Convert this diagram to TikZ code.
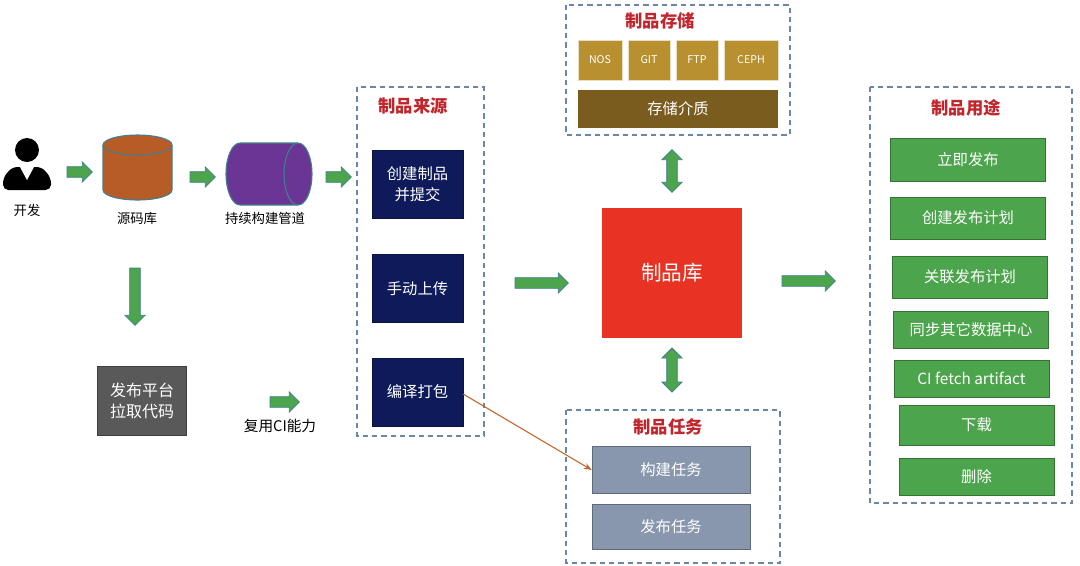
\documentclass[tikz,border=0pt]{standalone}
\usepackage{fontspec}
\setmainfont{Noto Sans CJK SC}
\usetikzlibrary{shapes.geometric,shapes.arrows,arrows.meta}
\definecolor{ga}{HTML}{4CA54C}
\definecolor{gab}{HTML}{3F7F8F}
\definecolor{ttl}{HTML}{C0262B}
\definecolor{navy}{HTML}{0E1A5A}
\definecolor{dash}{HTML}{6A86A8}
\definecolor{pgray}{HTML}{595959}
\definecolor{tgray}{HTML}{8896AE}
\definecolor{orng}{HTML}{B85C27}
\definecolor{purp}{HTML}{6A3594}
\definecolor{gold}{HTML}{B8902F}
\definecolor{dgold}{HTML}{7A5C1F}
\definecolor{libred}{HTML}{E83224}
\definecolor{lnk}{HTML}{C0652B}
\tikzset{
 px/.style={x=0.75pt,y=-0.75pt},
 box/.style={draw=#1!70!black,fill=#1,text=white,font=\fontsize{11.5}{15}\selectfont,inner sep=0pt,align=center},
 grp/.style={draw=dash,line width=1pt,dash pattern=on 4pt off 3pt},
 ttlf/.style={text=ttl,font=\bfseries\fontsize{13}{15}\selectfont},
 sa/.style={single arrow,fill=ga,draw=gab,line width=0.6pt,single arrow head extend=3.5pt,inner sep=3.7pt,minimum height=#1},
 da/.style={double arrow,fill=ga,draw=gab,line width=0.6pt,double arrow head extend=3.5pt,inner sep=3.7pt,minimum height=#1,shape border rotate=90},
 lbl/.style={font=\fontsize{10}{12}\selectfont},
}
\begin{document}
\begin{tikzpicture}[px]
\useasboundingbox (0,0) rectangle (1080,565);
% person
\fill (27,150) circle (12);
\fill[rounded corners=4pt] (3,190) -- (3,178) -- (12,167) -- (42,167) -- (51,178) -- (51,190) -- cycle;
\fill[white] (20,167) -- (27,180) -- (34,167) -- cycle;
\node[lbl] (dev) at (27,210) {开发};
\node[sa=19pt] (a1) at (77,172) {};
% repo cylinder
\coordinate (repo) at (137.5,168);
\draw[draw=gab,fill=orng,line width=0.8pt] (103,145) -- (103,190) arc[start angle=180,end angle=0,x radius=34.5,y radius=10] -- (172,145) arc[start angle=0,end angle=-180,x radius=34.5,y radius=10] -- cycle;
\draw[draw=gab,line width=0.8pt] (103,145) arc[start angle=180,end angle=0,x radius=34.5,y radius=10];
\node[lbl] (repol) at (137,218) {源码库};
\node[sa=19pt] (a2) at (200,177) {};
% pipe
\coordinate (pipe) at (268,174);
\draw[draw=gab,fill=purp,line width=0.8pt] (298,143) -- (240,143) arc[start angle=-90,end angle=-270,x radius=14,y radius=31] -- (298,205) arc[start angle=90,end angle=-90,x radius=14,y radius=31] -- cycle;
\draw[draw=gab,line width=0.8pt] (298,143) arc[start angle=-90,end angle=-270,x radius=14,y radius=31];
\node[lbl] (pipel) at (265,218) {持续构建管道};
\node[sa=19pt] (a3) at (336,177) {};
\node[sa=43pt,shape border rotate=270] (a4) at (135,294) {};
\node[box=pgray,minimum width=67pt,minimum height=52pt,font=\fontsize{12}{16}\selectfont] (pull) at (142,401) {发布平台\\拉取代码};
\node[sa=22pt] (a5) at (282,402) {};
\node[lbl,font=\fontsize{11}{13}\selectfont] (ci) at (280,426) {复用CI能力};
% source
\draw[grp] (357,87) rectangle (484,436);
\node[ttlf] (srct) at (413,106) {制品来源};
\node[box=navy,minimum width=68pt,minimum height=51pt,font=\fontsize{11.5}{16}\selectfont] (s1) at (417.5,184) {创建制品\\并提交};
\node[box=navy,minimum width=68pt,minimum height=51pt] (s2) at (417.5,288.5) {手动上传};
\node[box=navy,minimum width=68pt,minimum height=51pt] (s3) at (417.5,392) {编译打包};
\node[sa=40pt] (a6) at (539,283) {};
% storage
\draw[grp] (566,5) rectangle (790,135);
\node[ttlf] (stt) at (660,21) {制品存储};
\tikzset{sb/.style={fill=gold,draw=white!70!gold,text=white,font=\fontsize{8}{10}\selectfont,minimum height=30pt,inner sep=0pt}}
\node[sb,minimum width=33pt] (nos) at (600,60) {NOS};
\node[sb,minimum width=31.5pt] (git) at (649,60) {GIT};
\node[sb,minimum width=31.5pt] (ftp) at (697,60) {FTP};
\node[sb,minimum width=40.5pt] (ceph) at (751,60) {CEPH};
\node[fill=dgold,text=white,font=\fontsize{11.5}{13}\selectfont,minimum width=150pt,minimum height=28.5pt,inner sep=0pt] (media) at (678,109) {存储介质};
\node[da=32pt] (d1) at (672,171) {};
\node[fill=libred,text=white,font=\fontsize{15.5}{18}\selectfont,minimum width=105pt,minimum height=97.5pt,inner sep=0pt] (lib) at (672,273) {制品库};
\node[da=33pt] (d2) at (672,370) {};
\node[sa=40pt] (a7) at (806,281) {};
% tasks
\draw[grp] (566,410) rectangle (780,563);
\node[ttlf] (tt) at (668,427) {制品任务};
\node[box=tgray,minimum width=118.5pt,minimum height=35pt] (t1) at (671,470) {构建任务};
\node[box=tgray,minimum width=118.5pt,minimum height=34pt] (t2) at (671,527) {发布任务};
\draw[-{Stealth[length=6pt]},draw=lnk,line width=0.8pt] (s3.east)+(0,2) -- (t1.west);
% uses
\draw[grp] (870,87) rectangle (1072,503);
\node[ttlf] (ut) at (966,108) {制品用途};
\tikzset{ub/.style={box=ga,minimum width=116pt,minimum height=#1}}
\node[ub=32pt] (u1) at (968,159.5) {立即发布};
\node[ub=31.5pt] (u2) at (968,218) {创建发布计划};
\node[ub=31.5pt] (u3) at (970,277) {关联发布计划};
\node[ub=28pt] (u4) at (971,329.5) {同步其它数据中心};
\node[ub=28pt] (u5) at (971.5,378.5) {CI fetch artifact};
\node[ub=30pt] (u6) at (976.5,425) {下载};
\node[ub=28pt] (u7) at (976.5,476.5) {删除};
\end{tikzpicture}
\end{document}
